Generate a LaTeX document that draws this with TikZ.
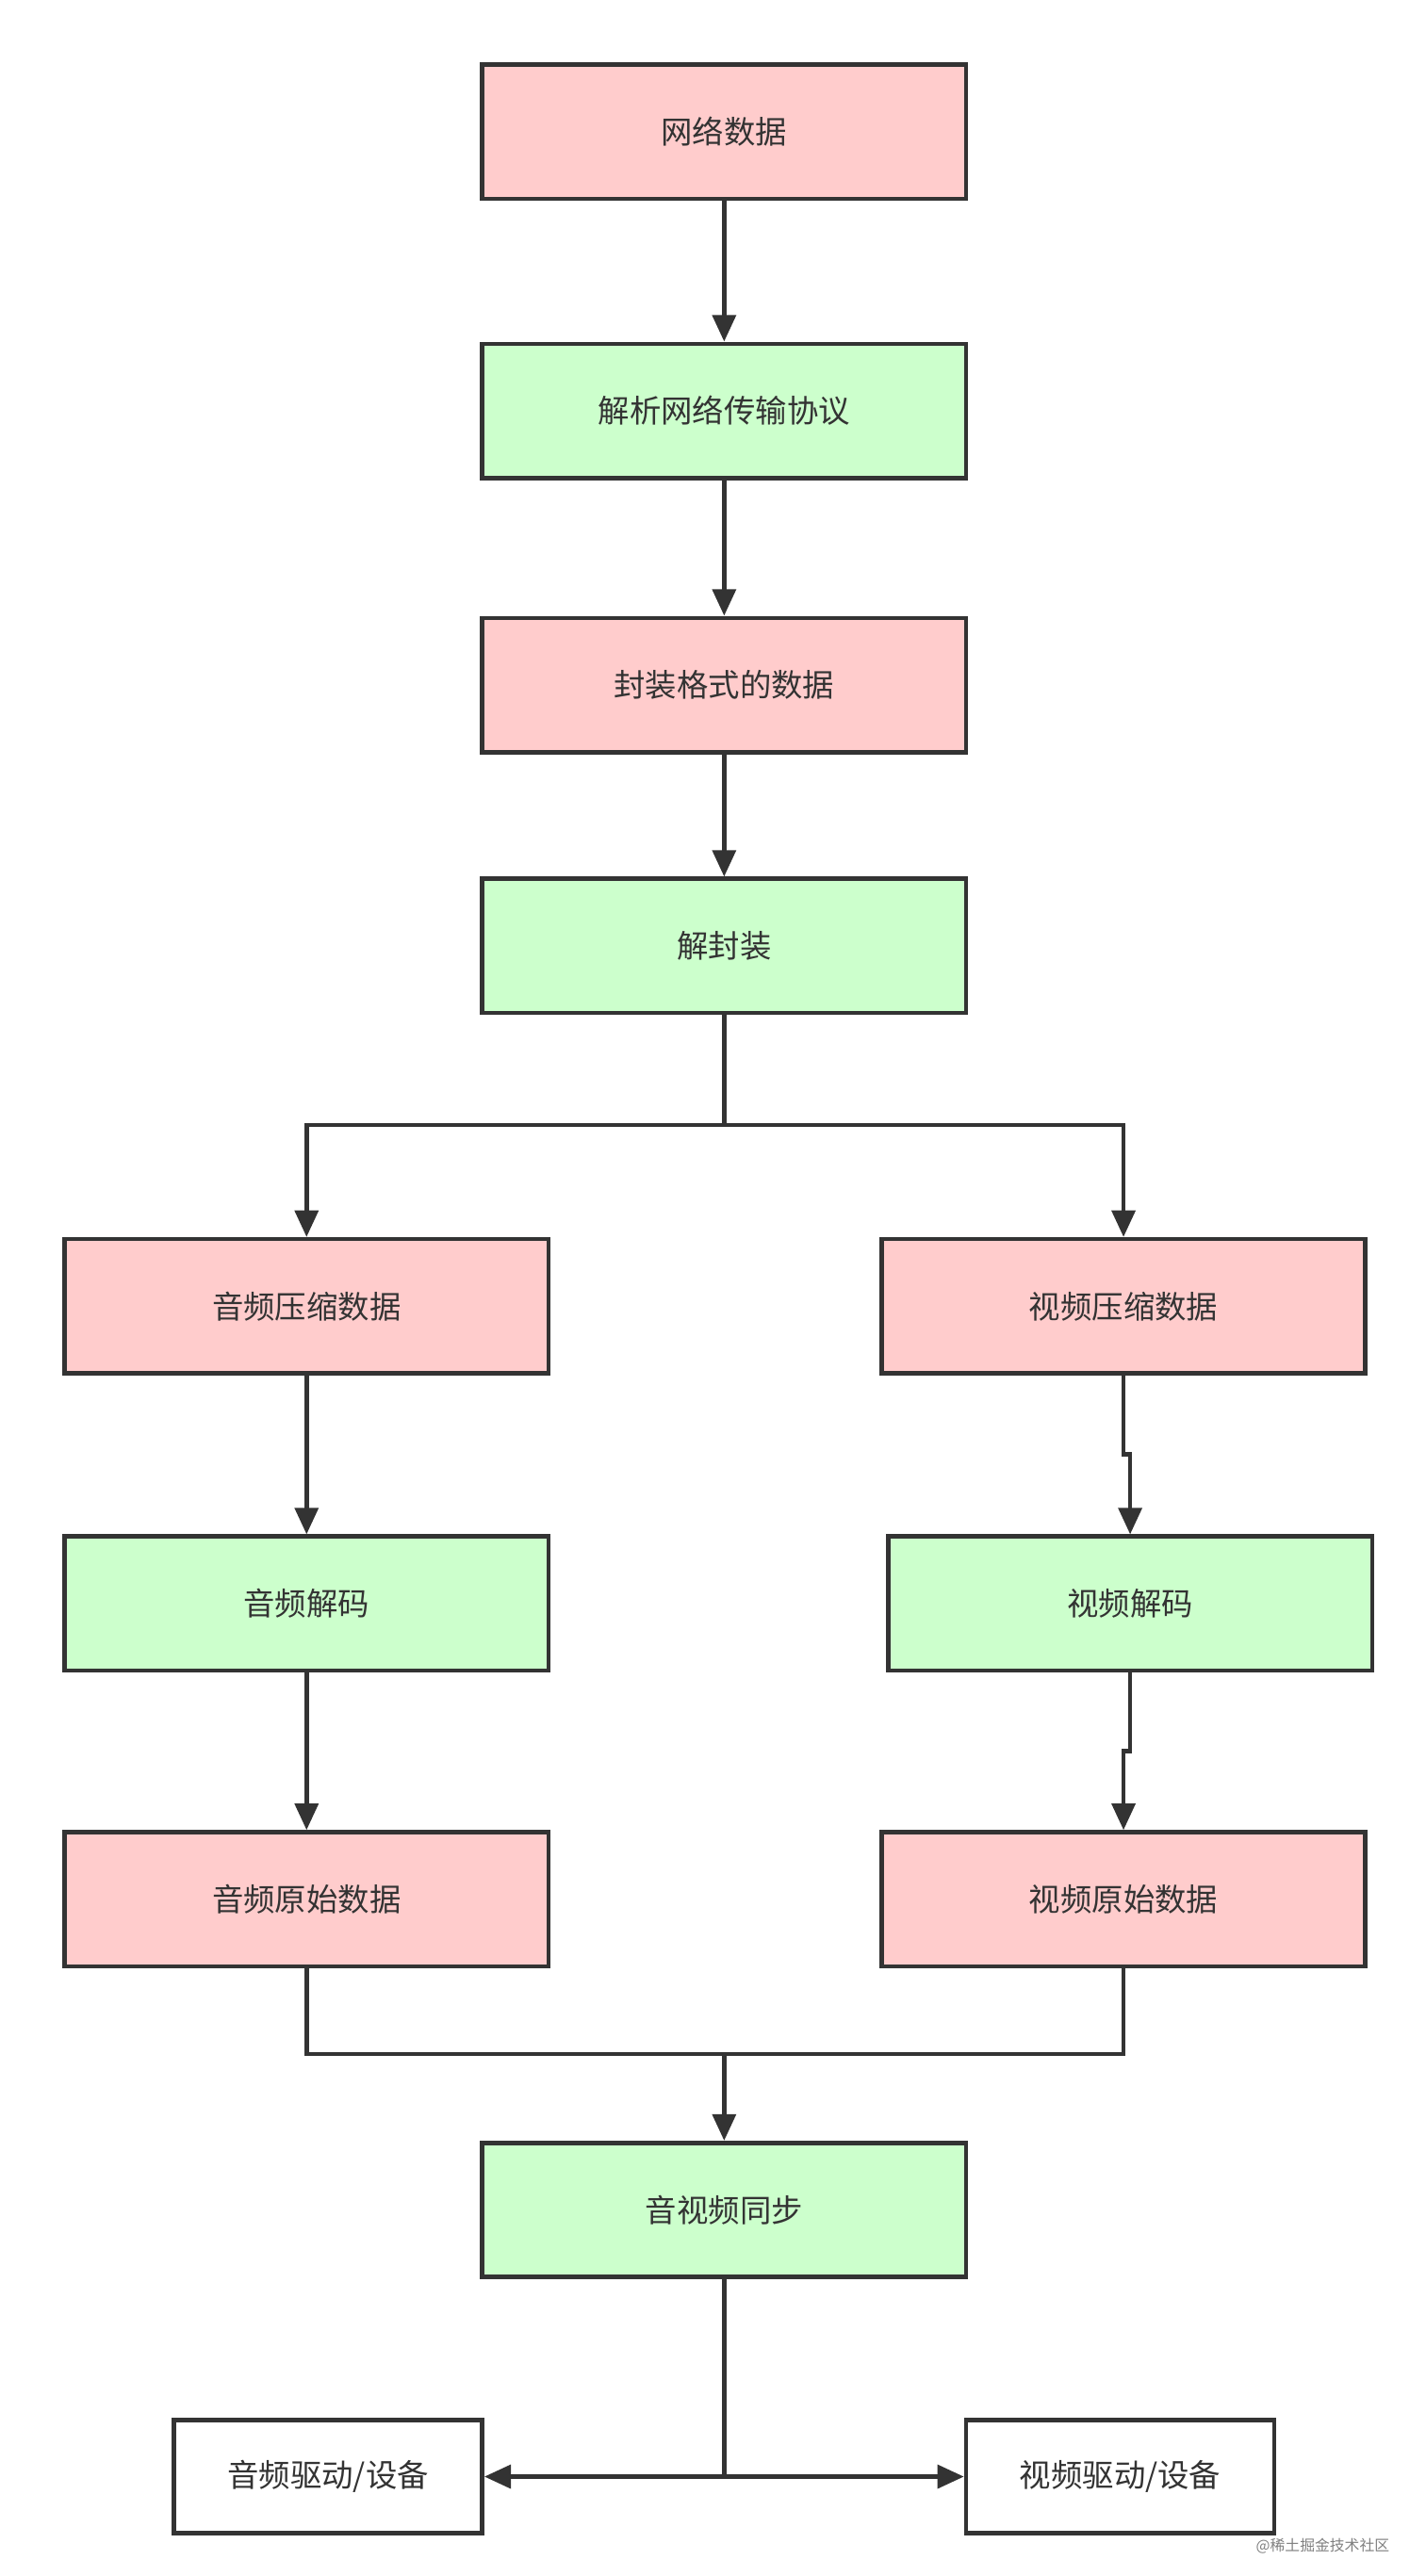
\documentclass[tikz,border=0pt]{standalone}
\usepackage{fontspec}
\setmainfont{Noto Sans CJK SC}
\usetikzlibrary{arrows.meta}
\definecolor{pinkf}{HTML}{FFCCCC}
\definecolor{greenf}{HTML}{CCFFCC}
\definecolor{edge}{HTML}{333333}
\begin{document}
\begin{tikzpicture}[x=1pt,y=-1pt,
  box/.style={draw=edge,line width=2.6pt,minimum width=292pt,minimum height=81pt,inner sep=0pt,font=\fontsize{19}{22}\selectfont,text=edge},
  pk/.style={box,fill=pinkf},
  gr/.style={box,fill=greenf},
  wt/.style={box,fill=white,minimum width=186pt,minimum height=68pt},
  conn/.style={draw=edge,line width=2.6pt},
  arr/.style={conn,-{Triangle[length=16pt,width=14pt]}}]
\useasboundingbox (0,0) rectangle (860,1555);
\fill[white] (0,0) rectangle (860,1555);
\node[pk] (a) at (437,79.5) {网络数据};
\node[gr] (b) at (437,248) {解析网络传输协议};
\node[pk] (c) at (437,413.5) {封装格式的数据};
\node[gr] (d) at (437,571) {解封装};
\node[pk] (e1) at (185,788.5) {音频压缩数据};
\node[pk] (e2) at (678,788.5) {视频压缩数据};
\node[gr] (f1) at (185,968) {音频解码};
\node[gr] (f2) at (682,968) {视频解码};
\node[pk] (g1) at (185,1146.5) {音频原始数据};
\node[pk] (g2) at (678,1146.5) {视频原始数据};
\node[gr] (h) at (437,1334) {音视频同步};
\node[wt] (i1) at (198,1495) {音频驱动/设备};
\node[wt] (i2) at (676,1495) {视频驱动/设备};
\node[text=gray,font=\fontsize{9}{10}\selectfont,anchor=east] (wm) at (842,1537) {@稀土掘金技术社区};
\draw[arr] (a) -- (b);
\draw[arr] (b) -- (c);
\draw[arr] (c) -- (d);
\coordinate (s) at (437,679);
\draw[conn] (d.south) -- (s);
\draw[arr] (s) -| (e1.north);
\draw[arr] (s) -| (e2.north);
\draw[arr] (e1) -- (f1);
\draw[arr] (f1) -- (g1);
\draw[arr] (e2.south) -- (678,878) -- (682,878) -- (f2.north);
\draw[arr] (f2.south) -- (682,1057) -- (678,1057) -- (g2.north);
\coordinate (m) at (437,1240);
\draw[conn] (g1.south) |- (m) -| (g2.south);
\draw[arr] (m) -- (h);
\coordinate (n) at (437,1495);
\draw[conn] (h.south) -- (n);
\draw[arr] (n) -- (i1.east);
\draw[arr] (n) -- (i2.west);
\end{tikzpicture}
\end{document}
